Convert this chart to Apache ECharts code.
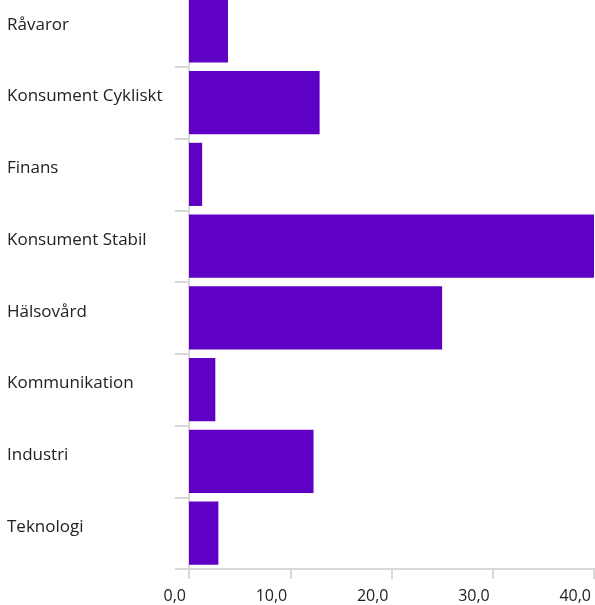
<!DOCTYPE html>
<html>
<head>
<meta charset="utf-8">
<script src="https://cdn.jsdelivr.net/npm/echarts@6/dist/echarts.min.js"></script>
<style>
  html, body { margin: 0; padding: 0; background: #fff; overflow: hidden; }
  /* top of the plot sits slightly above the window, so shift the canvas up */
  #chart { width: 595px; height: 610px; margin-top: -5px; }
</style>
</head>
<body>
<div id="chart"></div>
<script>
const sectors = [
  'Råvaror', 'Konsument Cykliskt', 'Finans', 'Konsument Stabil',
  'Hälsovård', 'Kommunikation', 'Industri', 'Teknologi'
];
const weights = [3.85, 12.9, 1.3, 40.0, 25.0, 2.6, 12.3, 2.9];
const xTicks = [0, 10, 20, 30, 40];

const chart = echarts.init(document.getElementById('chart'));
const axisGrey = '#d9d9d9';
const fontFamily = '"Open Sans", Lato, sans-serif';

const option = {
  animation: false,
  grid: {
    left: 189,
    right: 1,
    top: 0,
    bottom: 36,
    containLabel: false
  },
  xAxis: {
    type: 'value',
    min: xTicks[0],
    max: xTicks[xTicks.length - 1],
    interval: 10,
    splitLine: { show: false },
    axisLine: { show: true, lineStyle: { color: axisGrey, width: 2 } },
    axisTick: { show: true, length: 10, lineStyle: { color: axisGrey, width: 2 } },
    axisLabel: {
      color: '#222',
      fontFamily: fontFamily,
      fontSize: 16,
      margin: 19,
      align: 'right',
      padding: [0, 3, 0, 0],
      formatter: v => v.toFixed(1).replace('.', ',')
    }
  },
  yAxis: {
    type: 'category',
    data: sectors,
    inverse: true,
    axisLine: { show: true, lineStyle: { color: axisGrey, width: 2 } },
    axisTick: { show: true, length: 14, lineStyle: { color: axisGrey, width: 2 } },
    axisLabel: {
      color: '#222',
      fontFamily: fontFamily,
      fontSize: 17,
      align: 'left',
      verticalAlign: 'bottom',
      lineHeight: 12,
      margin: 182
    }
  },
  series: [{
    type: 'bar',
    data: weights,
    barCategoryGap: '12%',
    itemStyle: { color: '#5f00c5' }
  }]
};

chart.setOption(option);
</script>
</body>
</html>
